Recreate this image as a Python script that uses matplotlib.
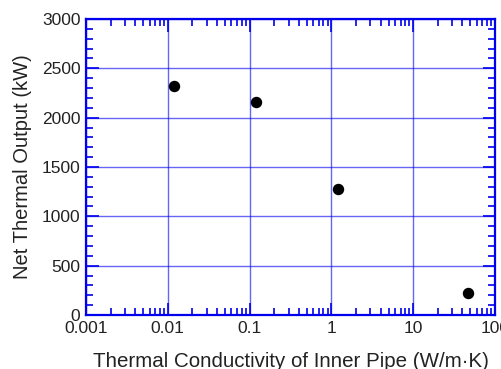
"""Net thermal output versus inner pipe thermal conductivity."""

import matplotlib

matplotlib.use("Agg")
import matplotlib.pyplot as plt
from matplotlib.ticker import FixedLocator, LogLocator, MultipleLocator, NullFormatter

conductivity = [0.012, 0.12, 1.2, 47.0]
net_output = [2320, 2160, 1275, 225]
x_ticks = [0.001, 0.01, 0.1, 1, 10, 100]
x_tick_labels = ["0.001", "0.01", "0.1", "1", "10", "100"]
y_ticks = [0, 500, 1000, 1500, 2000, 2500, 3000]

BLUE = "#0000ee"

plt.rcParams["font.family"] = ["Liberation Sans", "DejaVu Sans"]

fig = plt.figure(figsize=(5.02, 3.69), dpi=100)
ax = fig.add_axes([86 / 502, 1 - 315 / 369, 409 / 502, 296 / 369])

ax.scatter(conductivity, net_output, s=52, color="black", zorder=3, clip_on=False)

ax.set_xscale("log")
ax.set_xlim(0.001, 100)
ax.set_ylim(0, 3000)
ax.xaxis.set_major_locator(FixedLocator(x_ticks))
ax.set_xticklabels(x_tick_labels)
ax.xaxis.set_minor_locator(LogLocator(base=10, subs=range(2, 10)))
ax.xaxis.set_minor_formatter(NullFormatter())
ax.yaxis.set_major_locator(FixedLocator(y_ticks))
ax.yaxis.set_minor_locator(MultipleLocator(100))

ax.grid(True, which="major", color=BLUE, alpha=0.6, linewidth=1.0)
ax.set_axisbelow(True)
for spine in ax.spines.values():
    spine.set_color(BLUE)
    spine.set_linewidth(1.6)

ax.tick_params(which="both", direction="in", color=BLUE, top=True, right=True,
               labelsize=12.5, labelcolor="#222222")
ax.tick_params(which="major", length=9, width=1.2, pad=4)
ax.tick_params(which="minor", length=5, width=1.2)

ax.set_xlabel("Thermal Conductivity of Inner Pipe (W/m\u00b7K)", fontsize=14.8,
              color="#222222", labelpad=11.5)
ax.set_ylabel("Net Thermal Output (kW)", fontsize=14.5, color="#222222", labelpad=7)

fig.savefig("out.png", dpi=100)
